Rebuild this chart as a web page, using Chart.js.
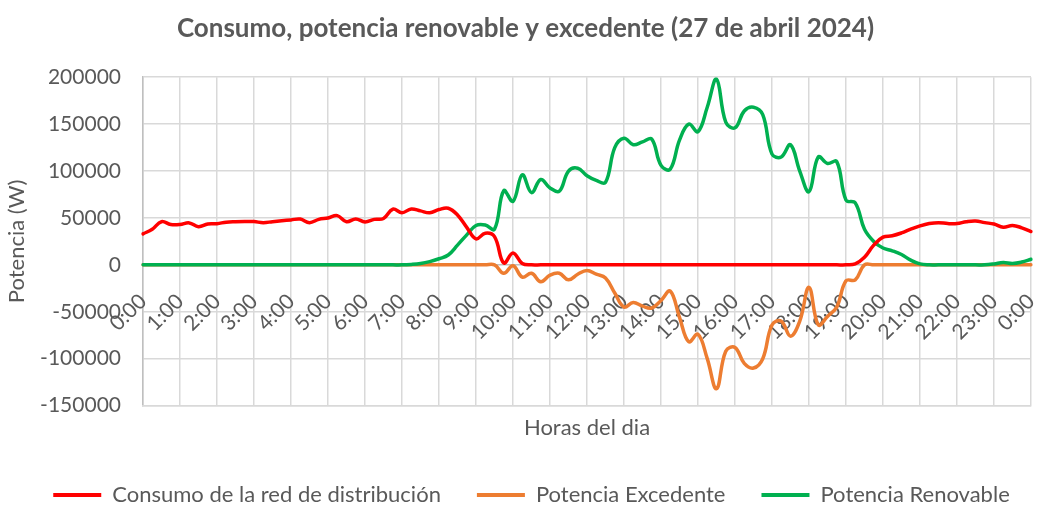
<!DOCTYPE html>
<html>
<head>
<meta charset="utf-8">
<script src="https://cdn.jsdelivr.net/npm/chart.js@4.4.1/dist/chart.umd.min.js"></script>
<style>
  html, body { margin: 0; padding: 0; background: #fff; }
  #wrap { width: 1041px; height: 505px; }
</style>
</head>
<body>
<div id="wrap"><canvas id="grafico"></canvas></div>
<script>
// Etiquetas de hora en el eje X (una por hora)
const hourLabels = ['0:00', '1:00', '2:00', '3:00', '4:00', '5:00', '6:00', '7:00', '8:00', '9:00',
  '10:00', '11:00', '12:00', '13:00', '14:00', '15:00', '16:00', '17:00', '18:00', '19:00',
  '20:00', '21:00', '22:00', '23:00', '0:00'];

// Medidas cada 15 minutos (97 puntos, de 0:00 a 0:00)
const times = [];
for (let h = 0; h < 24; h++) {
  ['00', '15', '30', '45'].forEach(m => times.push(h + ':' + m));
}
times.push('0:00');

const consumoRed = [
  33000, 38000, 46000, 43000, 43000, 44700, 40700, 43600,
  43900, 45500, 46000, 46200, 46100, 45000, 46000, 47000,
  47900, 48800, 45000, 48500, 50000, 52500, 46000, 49000,
  45800, 48500, 49500, 59300, 55600, 59600, 57500, 55500,
  59000, 60300, 53200, 40000, 27700, 33700, 30100, 2000,
  12700, 1500, 0, 0, 0, 0, 0, 0,
  0, 0, 0, 0, 0, 0, 0, 0,
  0, 0, 0, 0, 0, 0, 0, 0,
  0, 0, 0, 0, 0, 0, 0, 0,
  0, 0, 0, 0, 0, 1000, 8000, 21000,
  29500, 31000, 34000, 38000, 41500, 44000, 45000, 44000,
  44000, 46000, 46800, 45000, 43500, 40000, 42000, 39500,
  35500
];

const potenciaExcedente = [
  0, 0, 0, 0, 0, 0, 0, 0,
  0, 0, 0, 0, 0, 0, 0, 0,
  0, 0, 0, 0, 0, 0, 0, 0,
  0, 0, 0, 0, 0, 0, 0, 0,
  0, 0, 0, 0, 0, 0, 0, -9000,
  -1000, -13000, -9000, -18000, -11000, -9000, -16000, -10000,
  -6000, -10000, -14000, -30000, -45000, -40000, -44000, -46000,
  -38000, -28000, -56000, -82000, -74000, -100000, -132000, -92000,
  -88000, -105000, -110000, -100000, -64000, -60000, -76000, -60000,
  -24000, -64000, -55000, -45000, -17000, -16000, 0, 0,
  0, 0, 0, 0, 0, 0, 0, 0,
  0, 0, 0, 0, 0, 0, 0, 0,
  0
];

const potenciaRenovable = [
  0, 0, 0, 0, 0, 0, 0, 0,
  0, 0, 0, 0, 0, 0, 0, 0,
  0, 0, 0, 0, 0, 0, 0, 0,
  0, 0, 0, 0, 0, 500, 1500, 3500,
  6500, 10500, 21000, 32000, 42000, 42500, 38000, 79000,
  67700, 96000, 77000, 91000, 82000, 78500, 100000, 103000,
  95000, 90000, 88000, 125000, 135000, 128000, 131000, 134000,
  106000, 102000, 133000, 150000, 142000, 168000, 198000, 152000,
  146000, 164000, 168000, 160000, 118000, 115000, 128000, 100000,
  78000, 115000, 108000, 110000, 69000, 66000, 38000, 25000,
  18000, 15000, 11000, 5000, 1000, 0, 0, 0,
  0, 0, 0, 0, 1000, 2500, 1500, 3000,
  6000
];

const txt = '#595959';
const fam = 'Lato, "Open Sans", sans-serif';

// Desplaza un poco el título y la leyenda hacia la derecha, como en el original
const shiftBoxes = {
  id: 'shiftBoxes',
  afterLayout(chart) {
    if (chart.titleBlock) { chart.titleBlock.left += 10; chart.titleBlock.right += 10; }
    if (chart.legend) { chart.legend.left += 16; chart.legend.right += 16; }
  }
};

const ctx = document.getElementById('grafico').getContext('2d');
new Chart(ctx, {
  type: 'line',
  data: {
    labels: times,
    datasets: [
      {
        label: 'Consumo de la red de distribución',
        data: consumoRed,
        borderColor: '#FF0000',
        backgroundColor: '#FF0000',
        order: 1
      },
      {
        label: 'Potencia Excedente',
        data: potenciaExcedente,
        borderColor: '#ED7D31',
        backgroundColor: '#ED7D31',
        order: 3
      },
      {
        label: 'Potencia Renovable',
        data: potenciaRenovable,
        borderColor: '#00B050',
        backgroundColor: '#00B050',
        order: 2
      }
    ]
  },
  plugins: [shiftBoxes],
  options: {
    responsive: true,
    maintainAspectRatio: false,
    animation: false,
    layout: { padding: { left: 0, right: 10, top: 0, bottom: -11 } },
    elements: {
      line: { borderWidth: 3.5, tension: 0.4, borderCapStyle: 'round', borderJoinStyle: 'round' },
      point: { radius: 0 }
    },
    scales: {
      y: {
        min: -150000,
        max: 200000,
        afterFit: (scale) => { scale.width = 143; },
        ticks: {
          stepSize: 50000,
          padding: 22,
          color: txt,
          font: { family: fam, size: 21 },
          callback: (v) => String(v)
        },
        grid: {
          drawTicks: false,
          color: (c) => c.tick && c.tick.value === 0 ? '#bfbfbf' : '#d9d9d9',
          lineWidth: 1.5
        },
        border: { color: '#bfbfbf', width: 1.5 },
        title: {
          display: true,
          text: 'Potencia (W)',
          color: txt,
          font: { family: fam, size: 22 },
          padding: { top: 4, bottom: 0 }
        }
      },
      x: {
        position: 'bottom',
        ticks: {
          display: false,
          autoSkip: false,
          callback: (v, i) => (i % 4 === 0 ? hourLabels[i / 4] : null)
        },
        grid: {
          drawTicks: false,
          color: '#d9d9d9',
          lineWidth: 1.5
        },
        border: { color: '#d9d9d9', width: 1.5 },
        title: {
          display: true,
          text: 'Horas del dia',
          color: txt,
          font: { family: fam, size: 22 },
          padding: { top: 9, bottom: 7 }
        }
      },
      x2: {
        type: 'category',
        axis: 'x',
        position: { y: 0 },
        grid: { display: false, drawTicks: false },
        border: { display: false },
        afterFit: (scale) => {
          scale.paddingLeft = 0;
          scale.paddingRight = 0;
        },
        ticks: {
          autoSkip: false,
          minRotation: 45,
          maxRotation: 45,
          padding: 24,
          color: txt,
          font: { family: fam, size: 21 },
          callback: (v, i) => (i % 4 === 0 ? hourLabels[i / 4] : '')
        }
      }
    },
    plugins: {
      title: {
        display: true,
        text: 'Consumo, potencia renovable y excedente (27 de abril 2024)',
        color: txt,
        font: { family: fam, size: 26, weight: 'bold' },
        padding: { top: 13, bottom: 33 }
      },
      legend: {
        position: 'bottom',
        labels: {
          boxWidth: 48,
          boxHeight: 4,
          padding: 36,
          color: txt,
          font: { family: fam, size: 22 },
          sort: (a, b) => a.datasetIndex - b.datasetIndex,
          generateLabels: (chart) => Chart.defaults.plugins.legend.labels.generateLabels(chart)
            .map(item => Object.assign(item, { lineWidth: 0 }))
        }
      },
      tooltip: { enabled: false }
    }
  }
});
</script>
</body>
</html>
